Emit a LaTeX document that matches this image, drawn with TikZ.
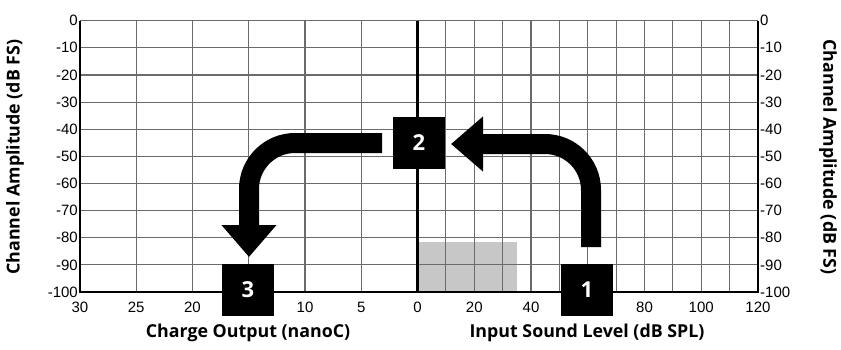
\documentclass[tikz,border=0pt]{standalone}
\usepackage{fontspec}
\setmainfont{Liberation Sans}
\newfontfamily\titlefont{Open Sans}
\usetikzlibrary{arrows.meta,calc}

\begin{document}
\begin{tikzpicture}[x=1pt,y=-1pt,
  gridline/.style={draw=black!58, line width=1.1pt},
  axisline/.style={draw=black, line width=1.6pt},
  ticklbl/.style={inner sep=0pt, font=\fontsize{15}{15}\selectfont},
  axtitle/.style={inner sep=0pt, font=\titlefont\bfseries\fontsize{17.8}{17.8}\selectfont},
  numbox/.style={fill=black, minimum size=52pt, inner sep=0pt, text=white,
                 font=\titlefont\bfseries\fontsize{22}{22}\selectfont},
  fatarrow/.style={draw=black, line width=20pt, rounded corners=46pt,
                   -{Triangle[length=32pt,width=53pt]}}
]
\useasboundingbox (0,0) rectangle (841,349);
\fill[white] (0,0) rectangle (841,349);

% plot frame values (pixels)
\def\xL{80}\def\xC{417.5}\def\xR{758}
\def\yT{20.7}\def\yB{292}\def\dy{27.13}

% shaded input region 0..35 dB SPL, -81.5..-100 dB FS
\fill[black!22] (\xC,241.5) rectangle (517,\yB);

% grid
\foreach \k in {0,...,10}
  \draw[gridline] (\xL,{\yT+\dy*\k}) -- (\xR,{\yT+\dy*\k});
\foreach \k in {1,...,5}
  \draw[gridline] ({\xL+56.25*\k},\yT) -- ({\xL+56.25*\k},\yB);
\foreach \k in {1,...,11}
  \draw[gridline] ({\xC+28.375*\k},\yT) -- ({\xC+28.375*\k},\yB);

% axes
\draw[axisline] (\xL,\yT) -- (\xL,\yB) -- (\xR,\yB) -- (\xR,\yT);
\draw[draw=black, line width=2.6pt] (\xC,\yT) -- (\xC,\yB);

% amplitude tick labels on both sides
\foreach \v [count=\k from 0] in {0,-10,-20,-30,-40,-50,-60,-70,-80,-90,-100} {
  \node[ticklbl, anchor=east] at (78,{\yT+\dy*\k}) {\v};
  \node[ticklbl, anchor=west] at (760,{\yT+\dy*\k}) {\v};
}

% charge output ticks
\foreach \v/\x in {30/80,25/136.25,20/192.5,10/305,5/361.25,0/417.5}
  \node[ticklbl] at (\x,307) {\v};
% input level ticks
\foreach \v/\x in {20/474.25,40/531,80/644.5,100/701.25,120/758}
  \node[ticklbl] at (\x,307) {\v};

% axis titles
\node[axtitle] (tl) at (248,333) {Charge Output (nanoC)};
\node[axtitle] (tr) at (587,333) {Input Sound Level (dB SPL)};
\node[axtitle, rotate=90] (yl) at (15,157) {Channel Amplitude (dB FS)};
\node[axtitle, rotate=-90] (yr) at (828,157) {Channel Amplitude (dB FS)};

% numbered steps
\node[numbox] (b1) at (587,290) {1};
\node[numbox] (b2) at (419,143) {2};
\node[numbox] (b3) at (248,290) {3};

% step arrows
\coordinate (a1s) at (591,247);
\coordinate (a1e) at (451,144);
\coordinate (a2s) at (382,143);
\coordinate (a2e) at (249,257);
\draw[fatarrow] (a1s) |- (a1e);
\draw[fatarrow] (a2s) -| (a2e);
\end{tikzpicture}
\end{document}
